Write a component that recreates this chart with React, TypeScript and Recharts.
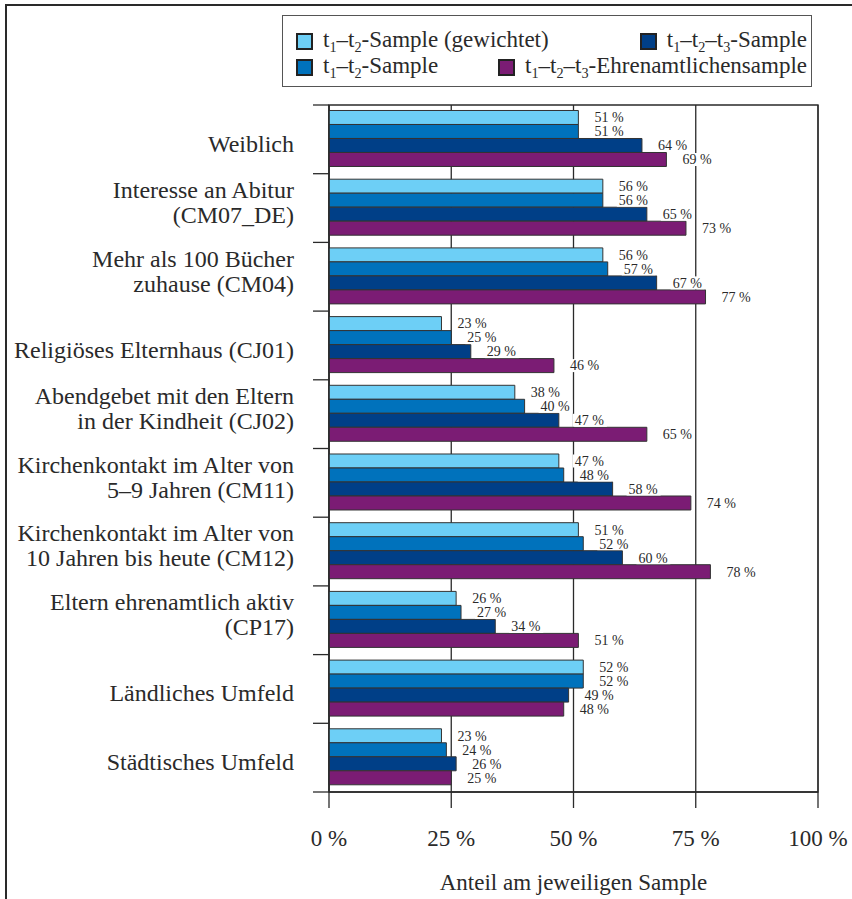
import React from 'react';
import { BarChart, Bar, XAxis, YAxis, CartesianGrid, Legend, LabelList, ReferenceArea } from 'recharts';

const categories = [
  'Weiblich',
  'Interesse an Abitur\n(CM07_DE)',
  'Mehr als 100 Bücher\nzuhause (CM04)',
  'Religiöses Elternhaus (CJ01)',
  'Abendgebet mit den Eltern\nin der Kindheit (CJ02)',
  'Kirchenkontakt im Alter von\n5–9 Jahren (CM11)',
  'Kirchenkontakt im Alter von\n10 Jahren bis heute (CM12)',
  'Eltern ehrenamtlich aktiv\n(CP17)',
  'Ländliches Umfeld',
  'Städtisches Umfeld',
];

const weighted = [51, 56, 56, 23, 38, 47, 51, 26, 52, 23];
const sample12 = [51, 56, 57, 25, 40, 48, 52, 27, 52, 24];
const sample123 = [64, 65, 67, 29, 47, 58, 60, 34, 49, 26];
const volunteers = [69, 73, 77, 46, 65, 74, 78, 51, 48, 25];

const xTicks = [0, 25, 50, 75, 100];

// legend names use _n for subscripts
const SERIES = [
  { key: 'weighted', name: 't_1–t_2-Sample (gewichtet)', color: '#6DCFF6' },
  { key: 'sample12', name: 't_1–t_2-Sample', color: '#0072BC' },
  { key: 'sample123', name: 't_1–t_2–t_3-Sample', color: '#003F87' },
  { key: 'volunteers', name: 't_1–t_2–t_3-Ehrenamtlichensample', color: '#7B1C74' },
];
// legend rows as printed
const LEGEND_ROWS = [
  ['weighted', 'sample123'],
  ['sample12', 'volunteers'],
];

const data = categories.map((name, i) => ({
  name,
  weighted: weighted[i],
  sample12: sample12[i],
  sample123: sample123[i],
  volunteers: volunteers[i],
}));

const W = 852;
const H = 899;
const PLOT_LEFT = 329;
const PLOT_RIGHT = 818;
const PLOT_TOP = 105;
const PLOT_BOTTOM = 792;
const BAND = (PLOT_BOTTOM - PLOT_TOP) / categories.length;
const FONT = '"Liberation Serif", "Times New Roman", serif';
const INK = '#2a2a2a';

const Subbed = ({ text }: { text: string }) => {
  const parts = text.split(/_(\d)/);
  return (
    <>
      {parts.map((p, i) =>
        i % 2 === 1 ? (
          <span key={i} style={{ fontSize: '0.62em', position: 'relative', top: '0.32em' }}>{p}</span>
        ) : (
          <span key={i}>{p}</span>
        )
      )}
    </>
  );
};

const LegendBox = () => (
  <div
    style={{
      width: 530,
      height: 72,
      boxSizing: 'border-box',
      border: '1.5px solid #555',
      background: '#fff',
      padding: '12px 4px 0 13px',
      fontFamily: FONT,
      fontSize: 23,
      color: INK,
    }}
  >
    {LEGEND_ROWS.map((row, r) => (
      <div key={r} style={{ display: 'flex', justifyContent: 'space-between', height: 26 }}>
        {row.map((k) => {
          const s = SERIES.find((x) => x.key === k)!;
          return (
            <div key={k} style={{ display: 'flex', alignItems: 'center', whiteSpace: 'nowrap' }}>
              <span
                style={{
                  width: 17,
                  height: 17,
                  boxSizing: 'border-box',
                  border: '2px solid #222',
                  background: s.color,
                  marginRight: 10,
                  flex: 'none',
                }}
              />
              <span style={{ lineHeight: '26px' }}>
                <Subbed text={s.name} />
              </span>
            </div>
          );
        })}
      </div>
    ))}
  </div>
);

const CategoryTick = (props: any) => {
  const { x, y, payload, index } = props;
  const lines = String(payload.value).split('\n');
  const lh = 25;
  const shift = lines.length === 1 ? 4 : -6;
  const top = y + shift - ((lines.length - 1) * lh) / 2;
  const sx1 = PLOT_LEFT - 16;
  return (
    <g>
      <text textAnchor="end" fontFamily={FONT} fontSize={24} fill={INK}>
        {lines.map((l, i) => (
          <tspan key={i} x={x} y={top + i * lh} dy="0.35em">
            {l}
          </tspan>
        ))}
      </text>
      <line x1={sx1} x2={PLOT_LEFT} y1={y - BAND / 2} y2={y - BAND / 2} stroke={INK} strokeWidth={1.3} />
      {index === categories.length - 1 && (
        <line x1={sx1} x2={PLOT_LEFT} y1={y + BAND / 2} y2={y + BAND / 2} stroke={INK} strokeWidth={1.3} />
      )}
    </g>
  );
};

const ValueLabel = (props: any) => {
  const vb = props.viewBox || props;
  const x = Number(vb.x);
  const y = Number(vb.y);
  const w = Number(vb.width);
  const h = Number(vb.height);
  const tx = x + w + 16;
  const cy = y + h / 2;
  return (
    <g>
      <rect x={tx - 2} y={cy - 6.5} width={34} height={13} fill="#fff" />
      <text x={tx} y={cy} dy="0.35em" fontFamily={FONT} fontSize={14} fill={INK}>
        {`${props.value} %`}
      </text>
    </g>
  );
};

export default function App() {
  return (
    <div style={{ position: 'absolute', left: 0, top: 0, width: W, height: H, background: '#fff' }}>
      <div
        style={{
          position: 'absolute',
          left: 5,
          top: 4,
          width: W - 5,
          height: H - 4,
          borderTop: `2px solid ${INK}`,
          borderLeft: `2px solid ${INK}`,
          boxSizing: 'border-box',
        }}
      />
      <BarChart
        width={W}
        height={H}
        data={data}
        layout="vertical"
        margin={{ top: PLOT_TOP, right: W - PLOT_RIGHT, bottom: 0, left: 0 }}
        barCategoryGap="8%"
        barGap={0}
        style={{ position: 'absolute', left: 0, top: 0, fontFamily: FONT }}
      >
        <CartesianGrid horizontal={false} stroke={INK} strokeWidth={1.3} />
        <XAxis
          type="number"
          domain={[0, 100]}
          ticks={xTicks}
          interval={0}
          tickFormatter={(v: number) => `${v} %`}
          height={H - PLOT_BOTTOM}
          tickSize={16}
          tickMargin={22}
          axisLine={{ stroke: INK, strokeWidth: 1.3 }}
          tickLine={{ stroke: INK, strokeWidth: 1.3 }}
          tick={{ fill: INK, fontSize: 23, fontFamily: FONT }}
          label={{
            value: 'Anteil am jeweiligen Sample',
            position: 'insideBottom',
            offset: 9,
            style: { fill: INK, fontSize: 23, fontFamily: FONT },
          }}
        />
        <YAxis
          type="category"
          dataKey="name"
          width={PLOT_LEFT}
          interval={0}
          tickLine={false}
          tickSize={0}
          tickMargin={35}
          axisLine={{ stroke: INK, strokeWidth: 1.3 }}
          tick={<CategoryTick />}
        />
        <ReferenceArea x1={0} x2={100} fill="none" stroke={INK} strokeWidth={1.3} />
        <Legend
          layout="horizontal"
          verticalAlign="middle"
          align="center"
          content={() => <LegendBox />}
          wrapperStyle={{ left: 282, top: 15, width: 530, height: 72 }}
        />
        {SERIES.map((s) => (
          <Bar
            key={s.key}
            dataKey={s.key}
            name={s.name}
            fill={s.color}
            stroke="#333"
            strokeWidth={1}
            isAnimationActive={false}
          >
            <LabelList dataKey={s.key} content={<ValueLabel />} />
          </Bar>
        ))}
      </BarChart>
    </div>
  );
}
